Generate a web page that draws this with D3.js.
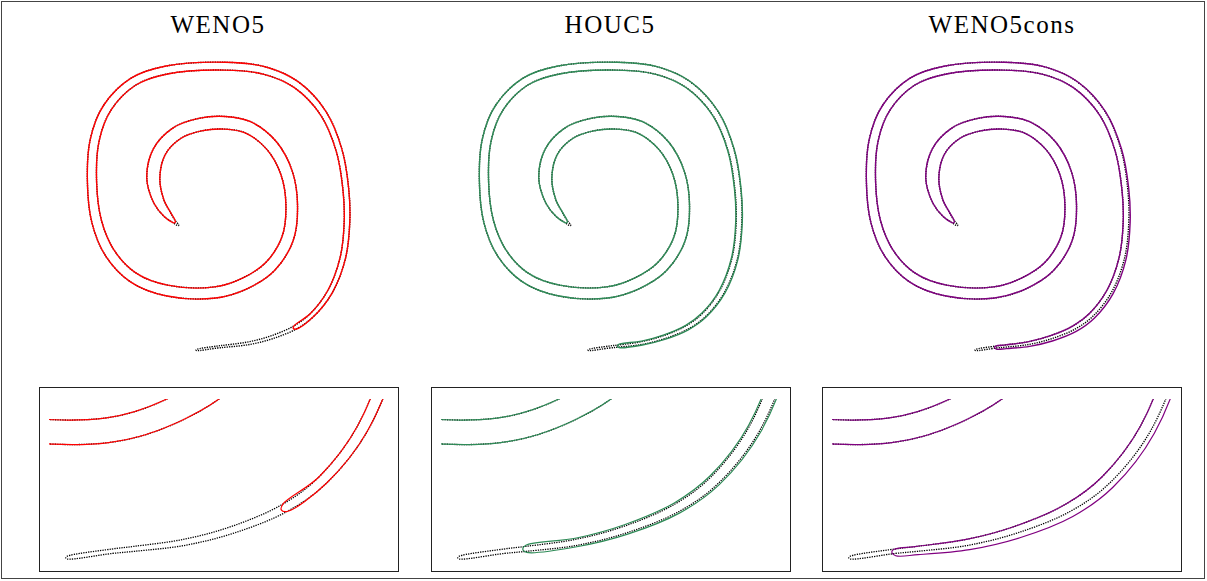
<!DOCTYPE html>
<html>
<head>
<meta charset="utf-8">
<script src="https://cdn.jsdelivr.net/npm/d3@7"></script>
<style>
  body { margin: 0; background: #fff; }
  svg { display: block; }
</style>
</head>
<body>
<svg id="spirals" width="1207" height="581"></svg>
<script>
// spiral centreline (domain units), tail tip -> inner tip
const centerX = [0.4468,0.4975,0.5225,0.5800,0.6350,0.6925,0.7350,0.7800,0.8118,0.8225,
	0.8193,0.8025,0.7633,0.6968,0.6175,0.5175,0.3718,0.2883,0.2233,0.1918,
	0.1850,0.1968,0.2300,0.2883,0.3718,0.4925,0.5675,0.6300,0.6743,0.6843,
	0.6718,0.6343,0.5758,0.5175,0.4550,0.3968,0.3533,0.3383,0.3525,0.3725,
	0.3900,0.4000];
const centerY = [0.1400,0.1473,0.1500,0.1575,0.1720,0.1963,0.2275,0.2858,0.3693,0.4608,
	0.5443,0.6400,0.7318,0.8025,0.8383,0.8495,0.8400,0.8108,0.7458,0.6650,
	0.5608,0.4608,0.3818,0.3213,0.2888,0.2838,0.3068,0.3483,0.4193,0.5025,
	0.5818,0.6508,0.6963,0.7080,0.7033,0.6818,0.6358,0.5693,0.5108,0.4800,
	0.4613,0.4525];
// half thickness of the exact band
const refHalf = [0.0015,0.0025,0.0028,0.0035,0.0040,0.0048,0.0055,0.0063,0.0068,0.0070,
	0.0073,0.0075,0.0080,0.0088,0.0095,0.0098,0.0100,0.0105,0.0110,0.0113,
	0.0115,0.0123,0.0128,0.0130,0.0135,0.0140,0.0145,0.0148,0.0148,0.0145,
	0.0148,0.0153,0.0155,0.0158,0.0160,0.0163,0.0165,0.0163,0.0130,0.0095,
	0.0038,0.0018];

const schemes = ["WENO5", "HOUC5", "WENO5cons"];
const schemeColors = ["#ff0000", "#2e8b57", "#800080"];
const schemeStart = [5, 2, 1];     // first centreline point still resolved
const schemeEnd = 40;
// extra thickness in the tail (first 16 points), inner side / outer side
const wenoExtraIn  = [0,0,0,0,0,0,0,0,0,0,0,0,0,0,0,0];
const wenoExtraOut = [0,0,0,0,0,0,0,0,0,0,0,0,0,0,0,0];
const houcExtraIn  = [0,0,0.0012,0.0013,0.0015,0.0015,0.0015,0.0013,0.0012,0.0011,0.0009,0.0007,0.0006,0.0004,0.0002,0];
const houcExtraOut = [0,0,0.0012,0.0015,0.0018,0.0018,0.0018,0.0017,0.0015,0.0012,0.0009,0.0007,0.0006,0.0004,0.0002,0];
const consExtraIn  = [0,0,0,0,0,0,0,0,0,0,0,0,0,0,0,0];
const consExtraOut = [0,0.0026,0.0038,0.0050,0.0060,0.0064,0.0060,0.0050,0.0042,0.0034,0.0026,0.0017,0.0010,0.0005,0.0002,0];

const zoomX = [0.415, 0.82];
const zoomY = [0.125, 0.3325];

const extrasIn = [wenoExtraIn, houcExtraIn, consExtraIn];
const extrasOut = [wenoExtraOut, houcExtraOut, consExtraOut];

const svg = d3.select("#spirals");
svg.append("rect")
	.attr("x", 1.5).attr("y", 1.5)
	.attr("width", 1203).attr("height", 577)
	.attr("fill", "white")
	.attr("stroke", "#444").attr("stroke-width", 1);

const mainShift = [0, 392, 779];
const insetShift = [0, 392, 783];
const titleX = [218, 610, 1002];

const lineGen = d3.line().curve(d3.curveCatmullRomClosed.alpha(0.5));

// closed outline of a band around the centreline between s and e
function bandOutline(sx, sy, s, e, hin, hout) {
	const k = Math.abs(sx(1) - sx(0));
	const P = centerX.map((x, i) => [sx(x), sy(centerY[i])]);
	const n = P.length;
	const inner = [], outer = [], dirs = {};
	for (let i = s; i <= e; i++) {
		const a = P[Math.max(i - 1, 0)], b = P[Math.min(i + 1, n - 1)];
		let dx = b[0] - a[0], dy = b[1] - a[1];
		const L = Math.hypot(dx, dy);
		dx /= L; dy /= L;
		dirs[i] = [dx, dy];
		inner.push([P[i][0] + dy * hin[i] * k, P[i][1] - dx * hin[i] * k]);
		outer.push([P[i][0] - dy * hout[i] * k, P[i][1] + dx * hout[i] * k]);
	}
	const wE = (hin[e] + hout[e]) / 2 * k, wS = (hin[s] + hout[s]) / 2 * k;
	const capE = [P[e][0] + dirs[e][0] * wE, P[e][1] + dirs[e][1] * wE];
	const capS = [P[s][0] - dirs[s][0] * wS, P[s][1] - dirs[s][1] * wS];
	return [...outer, capE, ...inner.reverse(), capS];
}

function schemeHalf(j, side) {
	const extra = side === "in" ? extrasIn[j] : extrasOut[j];
	return refHalf.map((h, i) => h + (i < extra.length ? extra[i] : 0));
}

function drawCurves(g, sx, sy, j, dotW, lineW) {
	g.append("path")
		.attr("d", lineGen(bandOutline(sx, sy, 0, centerX.length - 1, refHalf, refHalf)))
		.attr("fill", "none")
		.attr("stroke", "black")
		.attr("stroke-width", dotW)
		.attr("stroke-dasharray", "1.3,1.1");
	g.append("path")
		.attr("d", lineGen(bandOutline(sx, sy, schemeStart[j], schemeEnd, schemeHalf(j, "in"), schemeHalf(j, "out"))))
		.attr("fill", "none")
		.attr("stroke", schemeColors[j])
		.attr("stroke-width", lineW);
}

schemes.forEach((name, j) => {
	svg.append("text")
		.attr("x", titleX[j]).attr("y", 33)
		.attr("text-anchor", "middle")
		.attr("font-family", "'Liberation Serif', 'DejaVu Serif', serif")
		.attr("font-size", 25)
		.attr("letter-spacing", 1.5)
		.text(name);

	// main view
	const xs = d3.scaleLinear().domain([0, 1]).range([18 + mainShift[j], 418 + mainShift[j]]);
	const ys = d3.scaleLinear().domain([0, 1]).range([406, 6]);
	drawCurves(svg.append("g"), xs, ys, j, 1.4, 1.4);

	// zoomed view of the tail; the plotted data stops short of the frame
	const x0 = 39 + insetShift[j], x1 = 398 + insetShift[j];
	const xi = d3.scaleLinear().domain(zoomX).range([x0, x1]);
	const yi = d3.scaleLinear().domain(zoomY).range([571, 387]);
	svg.append("clipPath").attr("id", "clip" + j)
		.append("rect").attr("x", x0 + 10).attr("y", 399).attr("width", x1 - x0 - 10).attr("height", 172);
	drawCurves(svg.append("g").attr("clip-path", "url(#clip" + j + ")"), xi, yi, j, 1.3, 1.2);
	svg.append("rect")
		.attr("x", x0 + 0.5).attr("y", 387.5)
		.attr("width", x1 - x0).attr("height", 184)
		.attr("fill", "none")
		.attr("stroke", "#222").attr("stroke-width", 1);
});
</script>
</body>
</html>
